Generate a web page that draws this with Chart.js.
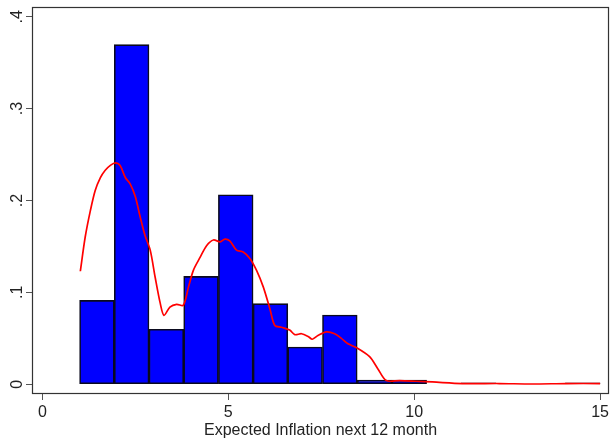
<!DOCTYPE html>
<html>
<head>
<meta charset="utf-8">
<script src="https://cdn.jsdelivr.net/npm/chart.js@4/dist/chart.umd.min.js"></script>
<style>
  html, body { margin: 0; padding: 0; background: #fff; }
  #wrap { width: 612px; height: 439px; }
</style>
</head>
<body>
<div id="wrap"><canvas id="c" width="612" height="439"></canvas></div>
<script>
// histogram: 15 bins from 1 to 15 (density)
var binStart = 1, binEnd = 15;
var binDensity = [0.0913, 0.3696, 0.0598, 0.1174, 0.2062, 0.0877, 0.0406, 0.0754,
                  0.0045, 0.0045, 0, 0.0015, 0, 0, 0.0015];

// kernel density overlay
var kdX = [1.02, 1.15, 1.29, 1.42, 1.56, 1.69, 1.82, 1.96, 2.09, 2.23, 2.36, 2.50, 2.63, 2.76, 2.90,
           3.03, 3.17, 3.27, 3.43, 3.61, 3.79, 3.93, 4.06, 4.24, 4.42, 4.60, 4.78, 4.91, 5.04, 5.22,
           5.40, 5.58, 5.76, 5.94, 6.12, 6.25, 6.43, 6.65, 6.79, 6.97, 7.15, 7.26, 7.41, 7.64, 7.86,
           8.04, 8.22, 8.44, 8.80, 9.02, 9.25, 9.61, 10.05, 10.49, 11.30, 12.29, 13.17, 14.09, 15.0];
var kdY = [0.123, 0.160, 0.189, 0.211, 0.225, 0.233, 0.238, 0.241, 0.238, 0.225, 0.218, 0.204, 0.182, 0.162, 0.146,
           0.117, 0.088, 0.075, 0.084, 0.087, 0.086, 0.106, 0.124, 0.138, 0.151, 0.157, 0.155, 0.158, 0.156, 0.146,
           0.144, 0.137, 0.124, 0.106, 0.082, 0.064, 0.062, 0.059, 0.054, 0.055, 0.052, 0.049, 0.053, 0.057, 0.055,
           0.050, 0.044, 0.040, 0.030, 0.017, 0.004, 0.004, 0.0033, 0.0025, 0.0008, 0.0008, 0.0003, 0.0008, 0.0008];

var xTicks = [0, 5, 10, 15];
var yTicks = [0, 0.1, 0.2, 0.3, 0.4];
var yTickLabels = ["0", ".1", ".2", ".3", ".4"];
var xTitle = "Expected Inflation next 12 month";

var FONT = '"Liberation Sans", Arial, sans-serif';
var binW = (binEnd - binStart) / binDensity.length;

var barData = binDensity.map(function (d, i) {
  return { x: binStart + (i + 0.5) * binW, y: d };
});
var lineData = kdX.map(function (x, i) { return { x: x, y: kdY[i] }; });

var framePlugin = {
  id: "frame",
  afterDraw: function (chart) {
    var ctx = chart.ctx, a = chart.chartArea;
    ctx.save();
    ctx.strokeStyle = "#333";
    ctx.lineWidth = 1.2;
    ctx.strokeRect(a.left + 0.5, a.top + 0.5, a.right - a.left - 1, a.bottom - a.top - 1);
    // rotated y labels
    var ys = chart.scales.y;
    ctx.fillStyle = "#222";
    ctx.font = "16px " + FONT;
    ctx.textAlign = "center";
    ctx.textBaseline = "alphabetic";
    yTicks.forEach(function (v, i) {
      var py = ys.getPixelForValue(v);
      ctx.save();
      ctx.translate(22, py);
      ctx.rotate(-Math.PI / 2);
      ctx.fillText(yTickLabels[i], 0, 0);
      ctx.restore();
    });
    ctx.restore();
  }
};

new Chart(document.getElementById("c").getContext("2d"), {
  type: "bar",
  data: {
    datasets: [
      {
        type: "line",
        data: lineData,
        borderColor: "#ff0000",
        borderWidth: 1.7,
        pointRadius: 0,
        tension: 0.3,
        fill: false,
        order: 0
      },
      {
        type: "bar",
        data: barData,
        backgroundColor: "#0000ff",
        borderColor: "#0a0a1e",
        borderWidth: 1.6,
        borderSkipped: false,
        barPercentage: 1,
        categoryPercentage: 1,
        order: 1
      }
    ]
  },
  options: {
    responsive: false,
    animation: false,
    devicePixelRatio: 1,
    layout: { padding: { top: 7, right: 1, left: 0, bottom: 0 } },
    plugins: { legend: { display: false }, tooltip: { enabled: false } },
    scales: {
      x: {
        type: "linear",
        min: -0.28,
        max: 15.24,
        offset: false,
        afterBuildTicks: function (s) { s.ticks = xTicks.map(function (v) { return { value: v }; }); },
        afterFit: function (s) { s.height = 45; },
        grid: { drawOnChartArea: false, drawTicks: true, tickLength: 6, color: "#555", offset: false },
        border: { display: false },
        ticks: { font: { size: 16, family: FONT }, color: "#222", padding: 3, maxRotation: 0 },
        title: { display: true, text: xTitle, font: { size: 16, family: FONT, lineHeight: 1 }, color: "#222", padding: { top: 0, bottom: 0 } }
      },
      y: {
        min: -0.0106,
        max: 0.4106,
        afterBuildTicks: function (s) { s.ticks = yTicks.map(function (v) { return { value: v }; }); },
        afterFit: function (s) { s.width = 32; },
        grid: { drawOnChartArea: false, drawTicks: true, tickLength: 6, color: "#555" },
        border: { display: false },
        ticks: { display: false }
      }
    }
  },
  plugins: [framePlugin]
});
</script>
</body>
</html>
